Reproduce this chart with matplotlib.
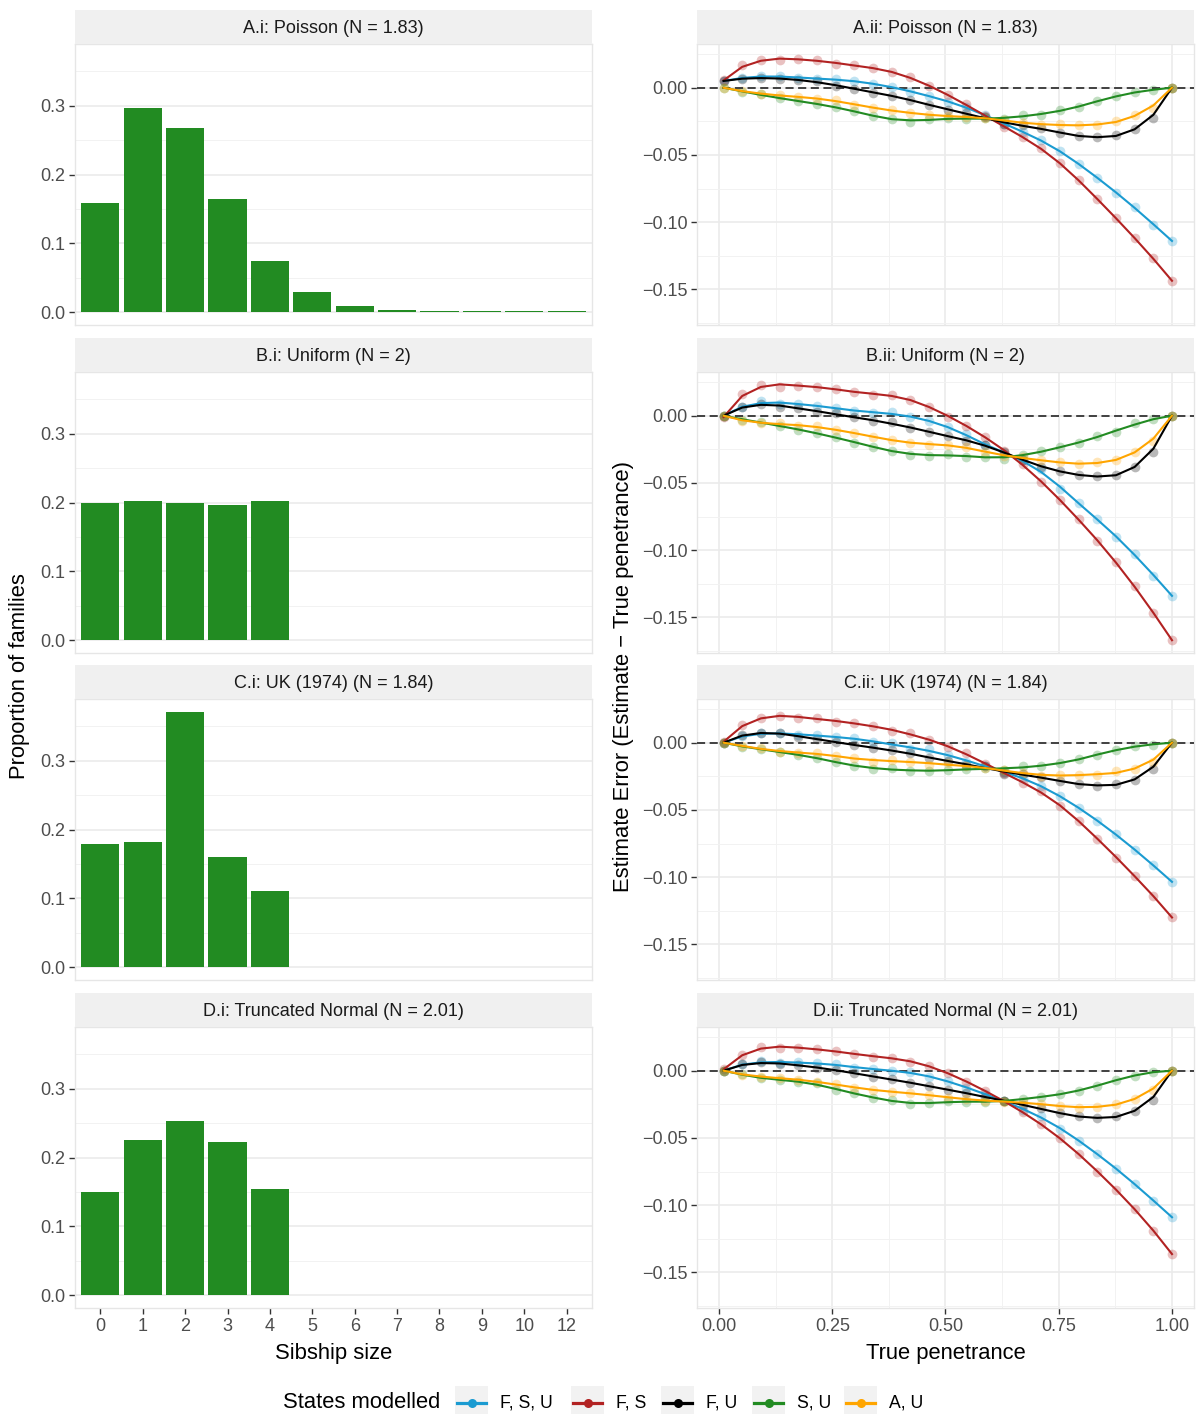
import numpy as np
import matplotlib
matplotlib.use("Agg")
import matplotlib.pyplot as plt
from matplotlib.patches import Rectangle
from matplotlib.lines import Line2D

plt.rcParams['font.family'] = ['Liberation Sans', 'DejaVu Sans']

# ---- sibship size distributions ----
sibship_sizes = ['0', '1', '2', '3', '4', '5', '6', '7', '8', '9', '10', '12']
poisson_prop = [0.159, 0.296, 0.268, 0.165, 0.075, 0.029, 0.009, 0.003, 0.0025, 0.0025, 0.0025, 0.0025]
uniform_prop = [0.200, 0.202, 0.199, 0.196, 0.202]
uk_prop = [0.179, 0.182, 0.371, 0.160, 0.110]
truncnorm_prop = [0.150, 0.225, 0.2525, 0.222, 0.154]

# ---- estimate error vs true penetrance ----
penetrance = np.linspace(0.01, 1.0, 25)

fsu_A = [0.005, 0.007, 0.0087, 0.0084, 0.0072, 0.0067, 0.0062, 0.0047, 0.003, 0.0005, -0.003, -0.006, -0.0106,
         -0.0144, -0.0205, -0.027, -0.033, -0.039, -0.047, -0.057, -0.067, -0.078, -0.089, -0.102, -0.114]
fs_A = [0.0054, 0.0166, 0.0208, 0.0203, 0.0215, 0.0203, 0.0178, 0.0166, 0.0146, 0.0116, 0.0079, 0.0012, -0.0057,
        -0.0124, -0.021, -0.029, -0.037, -0.045, -0.056, -0.069, -0.083, -0.097, -0.112, -0.127, -0.1436]
fu_A = [0.005, 0.0067, 0.0074, 0.0067, 0.0054, 0.0047, 0.0015, -0.0007, -0.0037, -0.006, -0.009, -0.0126, -0.0168,
        -0.019, -0.022, -0.027, -0.028, -0.030, -0.0334, -0.036, -0.037, -0.035, -0.031, -0.0225, 0.0]
su_A = [0.0, -0.003, -0.005, -0.008, -0.010, -0.012, -0.0144, -0.0176, -0.021, -0.023, -0.0255, -0.0235, -0.0225,
        -0.0235, -0.0225, -0.0235, -0.020, -0.0205, -0.0168, -0.0144, -0.010, -0.0064, -0.0032, -0.002, 0.0]
au_A = [0.0, -0.0027, -0.0045, -0.0057, -0.0069, -0.0082, -0.0094, -0.0126, -0.0151, -0.0168, -0.0186, -0.0205,
        -0.021, -0.0218, -0.0225, -0.0243, -0.026, -0.028, -0.0267, -0.028, -0.028, -0.025, -0.0205, -0.015, 0.0]

fsu_B = [0.0, 0.0067, 0.0106, 0.0087, 0.0087, 0.0074, 0.0057, 0.0037, 0.0017, 0.0025, -0.0012, -0.0037, -0.0087,
         -0.0136, -0.022, -0.0285, -0.033, -0.040, -0.0545, -0.065, -0.077, -0.090, -0.103, -0.119, -0.134]
fs_B = [-0.001, 0.016, 0.023, 0.0215, 0.0223, 0.0215, 0.0198, 0.0173, 0.0156, 0.0156, 0.0116, 0.0067, -0.0007,
        -0.0074, -0.016, -0.026, -0.036, -0.049, -0.063, -0.077, -0.093, -0.109, -0.127, -0.147, -0.167]
fu_B = [0.0, 0.0067, 0.0087, 0.0067, 0.006, 0.0025, 0.0017, -0.0012, -0.0042, -0.005, -0.009, -0.0124, -0.0149,
        -0.0186, -0.022, -0.027, -0.033, -0.038, -0.041, -0.044, -0.045, -0.044, -0.038, -0.027, 0.0]
su_B = [0.0, -0.003, -0.005, -0.0074, -0.0106, -0.013, -0.016, -0.020, -0.023, -0.026, -0.029, -0.0297, -0.0285,
        -0.0304, -0.0304, -0.032, -0.029, -0.0265, -0.0235, -0.0205, -0.0149, -0.0124, -0.0057, -0.0025, 0.0]
au_B = [0.0, -0.0037, -0.0057, -0.0057, -0.0074, -0.008, -0.0106, -0.013, -0.0156, -0.018, -0.0205, -0.0215,
        -0.0215, -0.0235, -0.027, -0.030, -0.031, -0.033, -0.0347, -0.036, -0.0347, -0.033, -0.027, -0.0186, 0.0]

fsu_C = [0.0, 0.005, 0.0069, 0.0069, 0.0057, 0.0057, 0.0039, 0.0032, 0.0007, -0.0005, -0.005, -0.005, -0.009,
         -0.014, -0.0172, -0.022, -0.0264, -0.032, -0.040, -0.0485, -0.058, -0.068, -0.080, -0.091, -0.1035]
fs_C = [0.0007, 0.013, 0.0187, 0.0197, 0.0187, 0.018, 0.0155, 0.0148, 0.0123, 0.0089, 0.0069, 0.002, -0.003,
        -0.0079, -0.0158, -0.0227, -0.030, -0.036, -0.047, -0.058, -0.0714, -0.0855, -0.099, -0.114, -0.130]
fu_C = [0.0, 0.0057, 0.0074, 0.0069, 0.0044, 0.0025, 0.0007, -0.0017, -0.0042, -0.0054, -0.0079, -0.0116, -0.0133,
        -0.0165, -0.0177, -0.023, -0.023, -0.0256, -0.0288, -0.0305, -0.032, -0.0305, -0.0276, -0.0197, 0.0]
su_C = [0.0, -0.003, -0.005, -0.0067, -0.0091, -0.0116, -0.014, -0.0172, -0.0197, -0.019, -0.0207, -0.0214, -0.0202,
        -0.0197, -0.019, -0.0202, -0.0172, -0.0177, -0.0153, -0.0123, -0.0091, -0.0054, -0.0025, -0.0017, 0.0]
au_C = [0.0, -0.0025, -0.0042, -0.0067, -0.0074, -0.0079, -0.0099, -0.0116, -0.014, -0.0128, -0.014, -0.0165,
        -0.0153, -0.0177, -0.019, -0.0202, -0.0227, -0.0246, -0.0239, -0.0239, -0.0239, -0.0214, -0.0197, -0.014, 0.0]

fsu_D = [0.0, 0.0047, 0.0072, 0.0054, 0.0062, 0.0054, 0.0047, 0.0022, 0.0012, -0.0002, -0.0012, -0.0045, -0.0077,
         -0.0126, -0.0176, -0.0225, -0.029, -0.034, -0.043, -0.052, -0.062, -0.073, -0.084, -0.097, -0.109]
fs_D = [0.001, 0.0116, 0.0178, 0.0171, 0.0166, 0.0161, 0.0146, 0.0121, 0.0104, 0.0097, 0.0067, 0.0037, -0.002,
        -0.0082, -0.0151, -0.0225, -0.031, -0.040, -0.050, -0.062, -0.075, -0.0886, -0.1027, -0.119, -0.1364]
fu_D = [0.0, 0.0047, 0.0062, 0.0047, 0.0042, 0.0022, 0.0005, -0.002, -0.0045, -0.0062, -0.0094, -0.0111, -0.0144,
        -0.0168, -0.0193, -0.0225, -0.0255, -0.028, -0.0317, -0.034, -0.0354, -0.0334, -0.030, -0.0218, 0.0]
su_D = [0.0, -0.0027, -0.0057, -0.0069, -0.0082, -0.0094, -0.0144, -0.0168, -0.020, -0.0218, -0.025, -0.0243,
        -0.0225, -0.023, -0.0235, -0.0225, -0.021, -0.0193, -0.0176, -0.0151, -0.0111, -0.0069, -0.0037, -0.0007, 0.0]
au_D = [0.0, -0.0032, -0.0045, -0.0052, -0.0069, -0.0082, -0.0101, -0.0126, -0.0144, -0.0156, -0.0168, -0.018,
        -0.020, -0.021, -0.0225, -0.023, -0.0235, -0.025, -0.026, -0.0275, -0.0267, -0.025, -0.021, -0.0144, 0.0]

state_labels = ['F, S, U', 'F, S', 'F, U', 'S, U', 'A, U']
state_colors = ['#1B9BD1', '#B22222', '#000000', '#228B22', '#FFA500']

rows = [
    ('A.i: Poisson (N = 1.83)', 'A.ii: Poisson (N = 1.83)', poisson_prop, [fsu_A, fs_A, fu_A, su_A, au_A]),
    ('B.i: Uniform (N = 2)', 'B.ii: Uniform (N = 2)', uniform_prop, [fsu_B, fs_B, fu_B, su_B, au_B]),
    ('C.i: UK (1974) (N = 1.84)', 'C.ii: UK (1974) (N = 1.84)', uk_prop, [fsu_C, fs_C, fu_C, su_C, au_C]),
    ('D.i: Truncated Normal (N = 2.01)', 'D.ii: Truncated Normal (N = 2.01)', truncnorm_prop,
     [fsu_D, fs_D, fu_D, su_D, au_D]),
]


def smooth(y, half=3):
    # local quadratic fit with tricube weights, end values kept as they are
    y = np.asarray(y, dtype=float)
    n = len(y)
    idx = np.arange(n)
    out = y.copy()
    for i in range(1, n - 1):
        lo, hi = max(0, i - half), min(n, i + half + 1)
        xs = idx[lo:hi] - i
        w = (1 - (np.abs(xs) / (half + 1)) ** 3) ** 3
        c = np.polyfit(xs, y[lo:hi], 2, w=np.sqrt(w))
        out[i] = c[-1]
    return out


W, H = 1199, 1414
fig = plt.figure(figsize=(W / 100, H / 100), dpi=100)
fig.patch.set_facecolor('white')


def box(x0, y0, x1, y1):
    return [x0 / W, 1 - y1 / H, (x1 - x0) / W, (y1 - y0) / H]


GRID = '#EBEBEB'
TICKCOL = '#4D4D4D'

panel_y = [(44, 325), (372, 653), (699, 980), (1027, 1308)]
left_x = (75, 592)
right_x = (697, 1194)

bar_max = max(max(p) for p in [poisson_prop, uniform_prop, uk_prop, truncnorm_prop])
bar_lim = (-0.05 * bar_max, 1.05 * bar_max)
all_err = np.concatenate([np.ravel(r[3]) for r in rows])
err_rng = all_err.max() - all_err.min()
err_lim = (all_err.min() - 0.05 * err_rng, all_err.max() + 0.05 * err_rng)


def style_panel(ax):
    for s in ax.spines.values():
        s.set_color('#E6E6E6')
        s.set_linewidth(1.0)
    ax.set_facecolor('white')
    ax.tick_params(axis='both', length=4, width=1.0, color='#333333', labelcolor=TICKCOL,
                   labelsize=13, pad=3)
    ax.tick_params(which='minor', length=0)
    ax.set_axisbelow(True)


def strip(x0, x1, y_top, text):
    sax = fig.add_axes(box(x0, y_top - 34, x1, y_top))
    sax.set_facecolor('#F0F0F0')
    for s in sax.spines.values():
        s.set_visible(False)
    sax.set_xticks([])
    sax.set_yticks([])
    sax.text(0.5, 0.47, text, ha='center', va='center', fontsize=13, color='#1A1A1A',
             transform=sax.transAxes)


for r, (ltitle, rtitle, props, series) in enumerate(rows):
    y0, y1 = panel_y[r]
    bottom = r == len(rows) - 1

    # left: bar chart of family sizes
    ax = fig.add_axes(box(left_x[0], y0, left_x[1], y1))
    style_panel(ax)
    pos = np.arange(len(sibship_sizes))
    ax.bar(pos[:len(props)], props, width=0.9, color='#228B22', linewidth=0)
    ax.set_xlim(-0.6, len(sibship_sizes) - 0.4)
    ax.set_ylim(*bar_lim)
    ax.set_yticks([0.0, 0.1, 0.2, 0.3])
    ax.set_yticklabels(['0.0', '0.1', '0.2', '0.3'])
    ax.set_yticks([0.05, 0.15, 0.25, 0.35], minor=True)
    ax.grid(True, axis='y', which='major', color=GRID, linewidth=1.2)
    ax.grid(True, axis='y', which='minor', color='#F2F2F2', linewidth=0.7)
    ax.set_xticks(pos)
    if bottom:
        ax.set_xticklabels(sibship_sizes)
        ax.set_xlabel('Sibship size', fontsize=15.8, labelpad=6)
    else:
        ax.tick_params(axis='x', length=0, labelbottom=False)
    strip(left_x[0], left_x[1], y0, ltitle)

    # right: estimate error curves
    ax = fig.add_axes(box(right_x[0], y0, right_x[1], y1))
    style_panel(ax)
    for vals, col in zip(series, state_colors):
        ax.plot(penetrance, vals, 'o', color=col, alpha=0.28, markersize=7, markeredgewidth=0)
    ax.axhline(0, color='#333333', linestyle=(0, (4.5, 2.5)), linewidth=1.3, zorder=3)
    for vals, col in zip(series, state_colors):
        ax.plot(penetrance, smooth(vals), '-', color=col, linewidth=1.5, zorder=4)
    ax.set_xlim(-22 / 453, 1 + 22 / 453)
    ax.set_ylim(*err_lim)
    ax.set_yticks([0.0, -0.05, -0.10, -0.15])
    ax.set_yticklabels(['0.00', '\u22120.05', '\u22120.10', '\u22120.15'])
    ax.set_yticks([0.025, -0.025, -0.075, -0.125, -0.175], minor=True)
    ax.set_xticks([0, 0.25, 0.5, 0.75, 1.0])
    ax.set_xticks([0.125, 0.375, 0.625, 0.875], minor=True)
    ax.grid(True, which='major', color=GRID, linewidth=1.2)
    ax.grid(True, which='minor', color='#F2F2F2', linewidth=0.7)
    if bottom:
        ax.set_xticklabels(['0.00', '0.25', '0.50', '0.75', '1.00'])
        ax.set_xlabel('True penetrance', fontsize=15.8, labelpad=6)
    else:
        ax.tick_params(axis='x', length=0, labelbottom=False)
    strip(right_x[0], right_x[1], y0, rtitle)

fig.text(20 / W, 1 - 676 / H, 'Proportion of families', rotation=90, ha='center', va='center', fontsize=15.8)
fig.text(623 / W, 1 - 676 / H, 'Estimate Error (Estimate \u2212 True penetrance)', rotation=90,
         ha='center', va='center', fontsize=15.8)

# legend along the bottom
lax = fig.add_axes(box(0, 1384, W, 1420))
lax.set_xlim(0, W)
lax.set_ylim(1420, 1384)
lax.axis('off')
lax.text(283, 1403, 'States modelled', ha='left', va='center', fontsize=15.8)
key_x = [455, 571, 661, 752, 844]
for kx, lab, col in zip(key_x, state_labels, state_colors):
    lax.add_patch(Rectangle((kx, 1386), 33, 34, facecolor='#F2F2F2', edgecolor='none'))
    lax.add_line(Line2D([kx + 2, kx + 31], [1403, 1403], color=col, linewidth=2.3))
    lax.plot(kx + 16.5, 1403, 'o', color=col, markersize=6.5, markeredgewidth=0)
    lax.text(kx + 45, 1403, lab, ha='left', va='center', fontsize=12.7)

fig.savefig('out.png', dpi=100)
